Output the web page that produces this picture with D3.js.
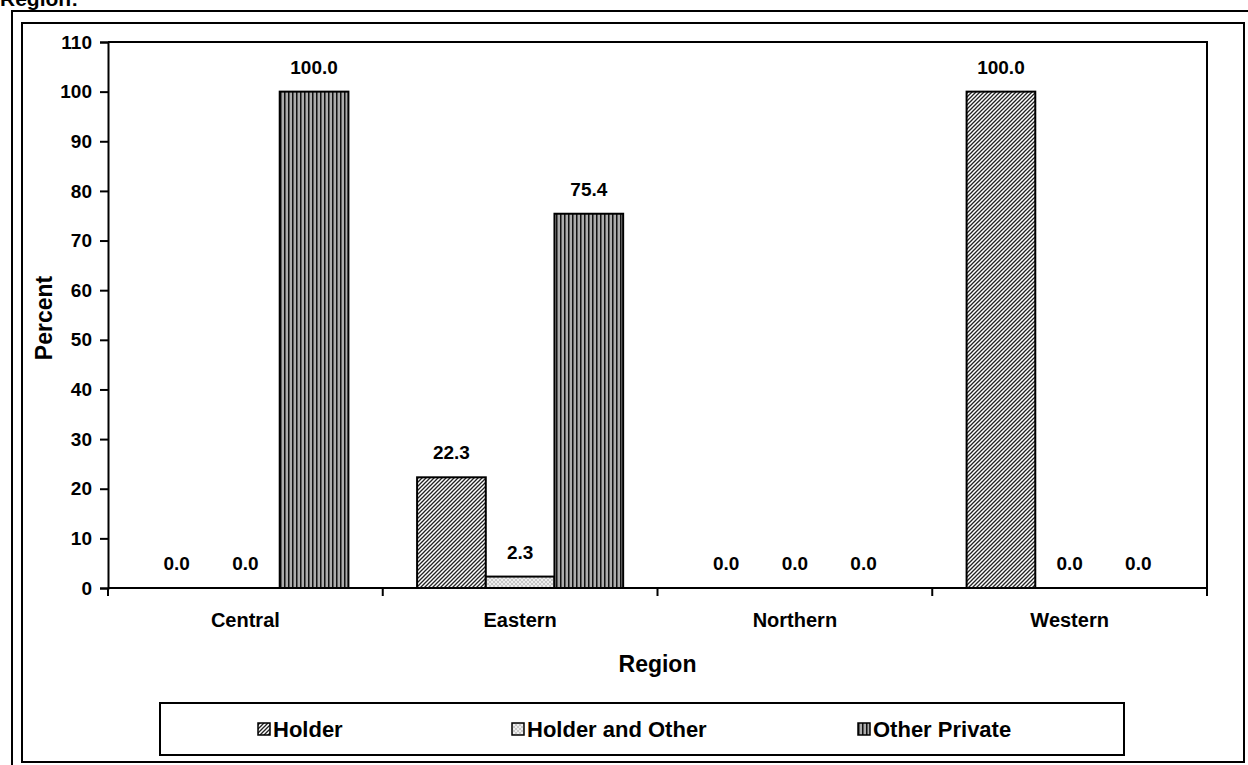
<!DOCTYPE html>
<html><head><meta charset="utf-8">
<script src="https://cdn.jsdelivr.net/npm/d3@7"></script>
<style>body{margin:0;background:#fff;}svg{display:block;font-family:"Liberation Sans",Arial,sans-serif;font-weight:bold;}</style>
</head><body>
<script>
const regions = ["Central","Eastern","Northern","Western"];
const seriesNames = ["Holder","Holder and Other","Other Private"];
const holder = [0.0, 22.3, 0.0, 100.0];
const holderOther = [0.0, 2.3, 0.0, 0.0];
const otherPrivate = [100.0, 75.4, 0.0, 0.0];
const yTicks = [0,10,20,30,40,50,60,70,80,90,100,110];
const seriesValues = [holder, holderOther, otherPrivate];

const W = 1248, H = 765;
const svg = d3.select("body").append("svg").attr("width", W).attr("height", H);
const defs = svg.append("defs");

// Patterns
const p1 = defs.append("pattern").attr("id","pHolder").attr("patternUnits","userSpaceOnUse").attr("width",4).attr("height",4);
p1.append("rect").attr("width",4).attr("height",4).attr("fill","#fff");
p1.append("path").attr("d","M-1,1 l2,-2 M0,4 l4,-4 M3,5 l2,-2").attr("stroke","#222").attr("stroke-width",1.3);

const p2 = defs.append("pattern").attr("id","pHolderOther").attr("patternUnits","userSpaceOnUse").attr("width",4).attr("height",4);
p2.append("rect").attr("width",4).attr("height",4).attr("fill","#eeeeee");
p2.append("path").attr("d","M0,0 L4,4 M4,0 L0,4").attr("stroke","#c4c4c4").attr("stroke-width",0.9);

const p3 = defs.append("pattern").attr("id","pOther").attr("patternUnits","userSpaceOnUse").attr("width",4).attr("height",4);
p3.append("rect").attr("width",4).attr("height",4).attr("fill","#cfcfcf");
p3.append("rect").attr("x",0).attr("width",1.6).attr("height",4).attr("fill","#111");
p3.append("rect").attr("x",2.6).attr("width",0.8).attr("height",4).attr("fill","#777");
const fills = ["url(#pHolder)","url(#pHolderOther)","url(#pOther)"];

// Frames
svg.append("path").attr("d","M12,765 L12,11 L1248,11").attr("fill","none").attr("stroke","#000").attr("stroke-width",2);
svg.append("rect").attr("x",22).attr("y",23).attr("width",1222).attr("height",739).attr("fill","none").attr("stroke","#000").attr("stroke-width",2);

// Title (clipped at top as in the source)
svg.append("text").attr("x",0).attr("y",6).attr("font-size",21).text("Region:");

const L = 108, R = 1207, T = 42, B = 588;
const x = d3.scaleBand().domain(regions).range([L,R]).padding(0);
const xs = d3.scaleBand().domain(seriesNames).range([0, x.bandwidth()]).paddingInner(0).paddingOuter(0.5);
const y = d3.scaleLinear().domain([0,110]).range([B,T]);

// plot area box (top & right)
svg.append("path").attr("d",`M${L},${T} L${R},${T} L${R},${B}`).attr("fill","none").attr("stroke","#000").attr("stroke-width",2);

// bars
const data = [];
regions.forEach((r,i)=>seriesNames.forEach((s,j)=>data.push({r,s,j,v:seriesValues[j][i]})));
const g = svg.append("g");
g.selectAll("rect.bar").data(data.filter(d=>d.v>0)).join("rect")
  .attr("x",d=>x(d.r)+xs(d.s)).attr("y",d=>y(d.v))
  .attr("width",xs.bandwidth()).attr("height",d=>y(0)-y(d.v))
  .attr("fill",d=>fills[d.j]).attr("stroke","#000").attr("stroke-width",2);

g.selectAll("text.lab").data(data).join("text")
  .attr("x",d=>x(d.r)+xs(d.s)+xs.bandwidth()/2).attr("y",d=>y(d.v)-18)
  .attr("text-anchor","middle").attr("font-size",19).text(d=>d3.format(".1f")(d.v));

// axes
const ya = svg.append("g").attr("transform",`translate(${L},0)`)
  .call(d3.axisLeft(y).tickValues(yTicks).tickSize(8).tickPadding(8));
ya.select(".domain").attr("stroke-width",2);
ya.selectAll(".tick line").attr("stroke-width",2);
ya.selectAll("text").attr("font-size",19).attr("font-family","Liberation Sans, Arial").attr("font-weight","bold").attr("fill","#000");

const xa = svg.append("g").attr("transform",`translate(0,${B})`)
  .call(d3.axisBottom(x).tickSize(0).tickPadding(25));
xa.select(".domain").attr("stroke-width",2).attr("d",`M${L},0H${R}`);
xa.selectAll("text").attr("font-size",20).attr("font-family","Liberation Sans, Arial").attr("font-weight","bold").attr("fill","#000");
// boundary ticks
const bounds = regions.map(r=>x(r)).concat([R]);
xa.selectAll("line.bt").data(bounds).join("line").attr("class","bt")
  .attr("x1",d=>d).attr("x2",d=>d).attr("y1",0).attr("y2",8).attr("stroke","#000").attr("stroke-width",2);

// axis titles
svg.append("text").attr("transform","translate(52,318) rotate(-90)").attr("text-anchor","middle").attr("font-size",23).text("Percent");
svg.append("text").attr("x",(L+R)/2).attr("y",672).attr("text-anchor","middle").attr("font-size",23).text("Region");

// legend
svg.append("rect").attr("x",160).attr("y",703).attr("width",964).attr("height",52).attr("fill","#fff").attr("stroke","#000").attr("stroke-width",2);
const legX = [258, 512, 858];
const lg = svg.selectAll("g.leg").data(seriesNames).join("g").attr("class","leg")
  .attr("transform",(d,i)=>`translate(${legX[i]},729)`);
lg.append("rect").attr("x",0).attr("y",-6).attr("width",12).attr("height",12).attr("fill",(d,i)=>fills[i]).attr("stroke","#000").attr("stroke-width",1.5);
lg.append("text").attr("x",15).attr("y",8).attr("font-size",22).text(d=>d);
</script>
</body></html>
